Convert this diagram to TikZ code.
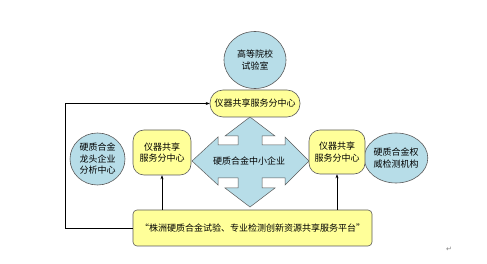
\documentclass[tikz,border=0pt]{standalone}
\usepackage{fontspec}
\newfontfamily\cjk{Noto Sans CJK SC}
\newfontfamily\dejavu{DejaVu Sans}
\usetikzlibrary{arrows.meta}
\definecolor{cblue}{HTML}{B7DDE8}
\definecolor{cyel}{HTML}{FFFF99}
\definecolor{edgec}{HTML}{5A5A5A}
\tikzset{
  lbl/.style={font=\cjk\fontsize{9}{11.5}\selectfont, align=center, inner sep=0pt},
  circ/.style={ellipse, draw=edgec, fill=cblue, line width=0.6pt, lbl},
  ybox/.style={draw=edgec, fill=cyel, line width=0.6pt, lbl},
  conn/.style={draw=black, line width=0.5pt, -{Stealth[length=4pt,width=3pt]}},
}
\usetikzlibrary{shapes.geometric}
\begin{document}
\begin{tikzpicture}[x=1pt,y=-1pt]
\useasboundingbox (0,0) rectangle (487,264);
% cross arrow
\draw[edgec, fill=cblue, line width=0.5pt]
 (250,117) -- (275,136) -- (262,136) -- (262,145) -- (285,145) -- (285,137) -- (309,161)
 -- (285,185) -- (285,178) -- (262,178) -- (262,188) -- (275,188) -- (250,207)
 -- (225,188) -- (238,188) -- (238,178) -- (218,178) -- (218,185) -- (192,161)
 -- (218,137) -- (218,145) -- (238,145) -- (238,136) -- (225,136) -- cycle;
\node[lbl] (sme) at (249,161) {硬质合金中小企业};
% circles
\node[circ, minimum width=62pt, minimum height=57pt] (uni) at (255,60) {高等院校\\试验室};
\node[circ, minimum width=55pt, minimum height=52pt] (lead) at (97.5,159) {硬质合金\\龙头企业\\分析中心};
\node[circ, minimum width=53pt, minimum height=50pt] (auth) at (396,158) {硬质合金权\\威检测机构};
% yellow boxes
\node[ybox, rounded corners=13pt, minimum width=90pt, minimum height=27pt] (top) at (255,103.5) {仪器共享服务分中心};
\node[ybox, rounded corners=11pt, minimum width=58pt, minimum height=45pt] (left) at (162,152.5) {仪器共享\\服务分中心};
\node[ybox, rounded corners=11pt, minimum width=56pt, minimum height=44pt] (right) at (337,152) {仪器共享\\服务分中心};
\node[ybox, rounded corners=4pt, minimum width=239pt, minimum height=36pt] (plat) at (252.5,228) {“株洲硬质合金试验、专业检测创新资源共享服务平台”};
% connectors
\coordinate (c1) at (65,228);
\coordinate (c2) at (65,103.5);
\draw[conn] (plat.west) -- (c1) -- (c2) -- (top.west);
\draw[conn] (plat.north -| left.south) -- (left.south);
\draw[conn] (plat.north -| right.south) -- (right.south);
\node[font=\dejavu\fontsize{7}{7}\selectfont, text=gray, inner sep=0pt] (ret) at (449,249) {↵};
\end{tikzpicture}
\end{document}
